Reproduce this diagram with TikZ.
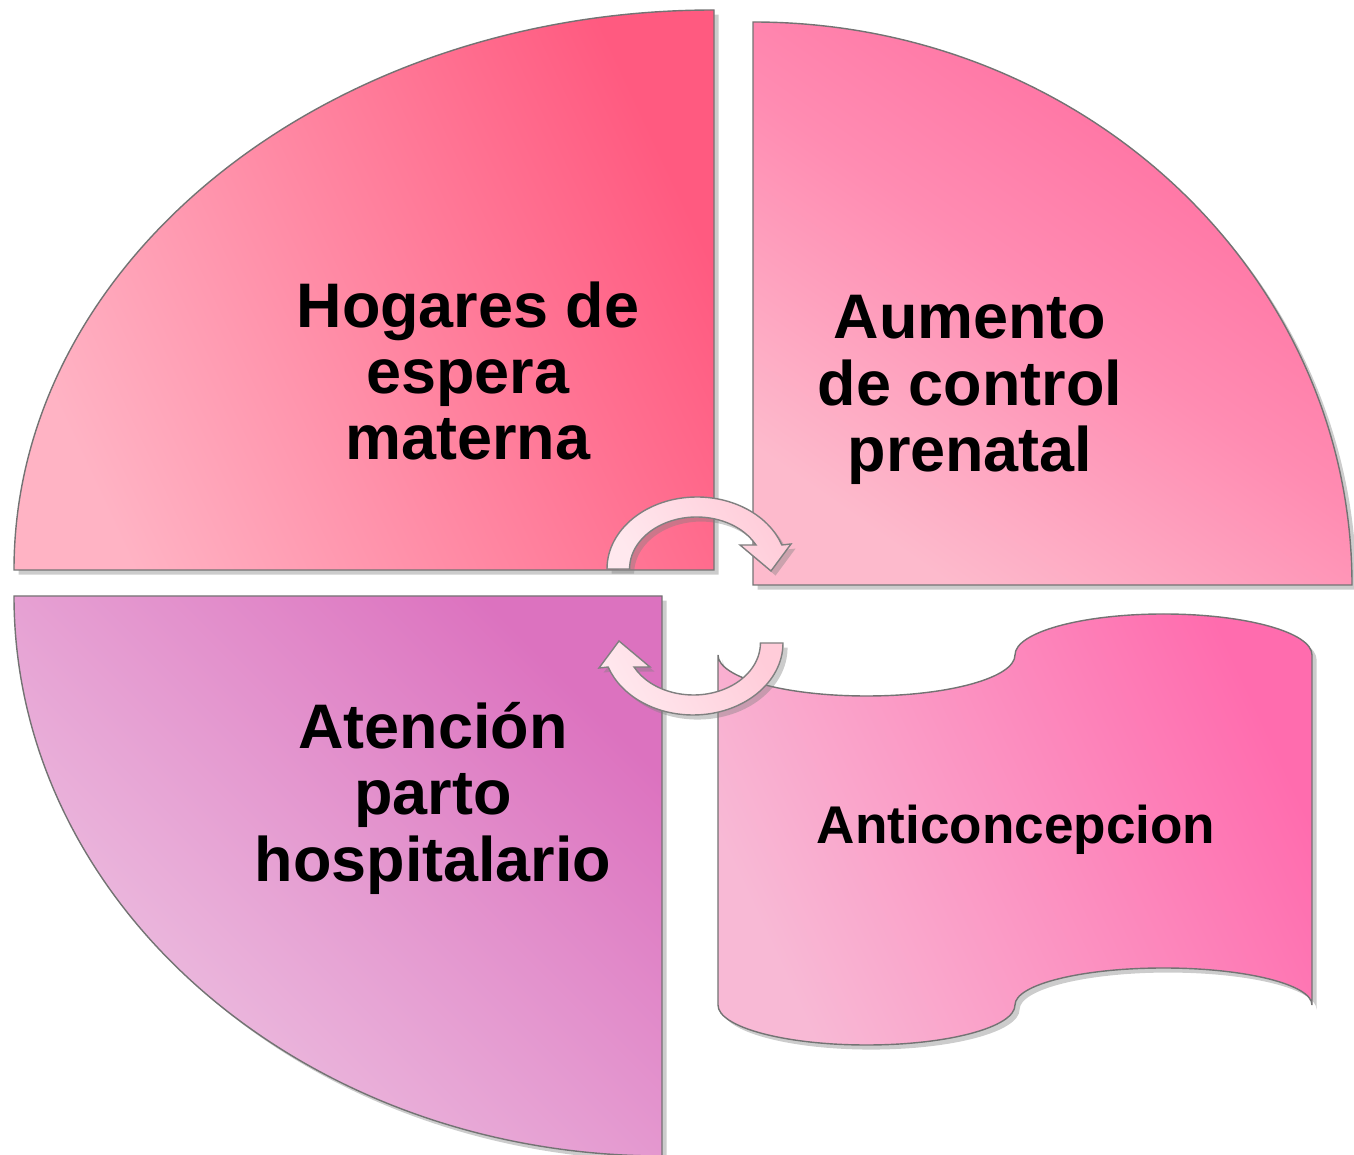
\documentclass[tikz,border=0pt]{standalone}
\usepackage{fontspec}
\setmainfont{Liberation Sans}
\usetikzlibrary{shadows}
\definecolor{hogarLight}{HTML}{FFB3C4}
\definecolor{hogarDark}{HTML}{FF5A80}
\definecolor{aumentoLight}{HTML}{FDBACC}
\definecolor{aumentoMid}{HTML}{FF8CB2}
\definecolor{aumentoDark}{HTML}{FF6A9E}
\definecolor{atencionLight}{HTML}{EEC6E3}
\definecolor{atencionDark}{HTML}{DC72BF}
\definecolor{antiLight}{HTML}{F8B9D5}
\definecolor{antiDark}{HTML}{FF6CAE}
\definecolor{arrowLight}{HTML}{FFE8EE}
\definecolor{arrowDark}{HTML}{FFCCD9}
\begin{document}
\begin{tikzpicture}[x=0.01cm, y=0.01cm,
	piece/.style={draw=black!55, line width=0.4pt, drop shadow={shadow xshift=1.3pt, shadow yshift=-1.3pt, opacity=0.4}},
	cyclearrow/.style={piece, draw=black!50, top color=arrowDark, bottom color=arrowLight, shading angle=-60},
	caption/.style={font=\fontsize{17.9pt}{18.9pt}\selectfont\bfseries, align=center, inner sep=0pt}]
		\useasboundingbox (0,0) rectangle (1354,1154);
		\path[piece, top color=hogarDark, bottom color=hogarLight, shading angle=-65] (14,584) arc[start angle=180, end angle=90, x radius=700, y radius=560] -- (714,584) -- cycle;
		\path[piece, top color=aumentoDark, bottom color=aumentoLight, middle color=aumentoMid, shading angle=-35] (753,569) -- (753,1132) arc[start angle=90, end angle=0, x radius=599, y radius=563] -- cycle;
		\path[piece, top color=atencionDark, bottom color=atencionLight, shading angle=-45] (14,558) -- (662,558) -- (662,-2) arc[start angle=270, end angle=180, x radius=648, y radius=560] -- cycle;
		\path[piece, top color=antiDark, bottom color=antiLight, shading angle=-65] (718,499) arc[start angle=180, end angle=360, x radius=148.5, y radius=41] arc[start angle=180, end angle=0, x radius=148.5, y radius=41] -- (1312,149) arc[start angle=0, end angle=180, x radius=148.5, y radius=37] arc[start angle=0, end angle=-180, x radius=148.5, y radius=40] -- cycle;
		\path[cyclearrow] (607,585) arc[start angle=180, end angle=19.5, x radius=90, y radius=72] -- (791,610) -- (771,583) -- (740,609) -- (756,609) arc[start angle=27.5, end angle=180, x radius=67, y radius=52] -- cycle;
		\path[cyclearrow, rotate around={180:(695,548)}] (607,585) arc[start angle=180, end angle=19.5, x radius=90, y radius=72] -- (791,610) -- (771,583) -- (740,609) -- (756,609) arc[start angle=27.5, end angle=180, x radius=67, y radius=52] -- cycle;
		\node[caption] (hogares) at (468,783) {Hogares de\\espera\\materna};
		\node[caption] (aumento) at (970,764) {Aumento\\de control\\prenatal};
		\node[caption] (atencion) at (433,356) {Atención\\parto\\hospitalario};
		\node[caption, font=\fontsize{15.1pt}{16pt}\selectfont\bfseries] (anticoncepcion) at (1016,324) {Anticoncepcion};
	\end{tikzpicture}
\end{document}
